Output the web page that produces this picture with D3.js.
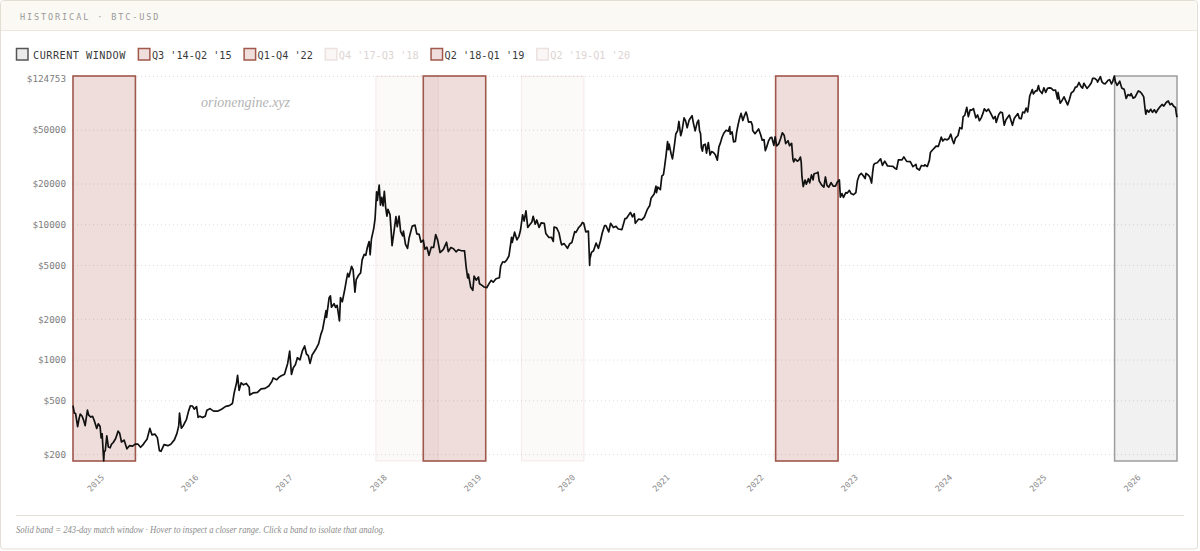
<!DOCTYPE html>
<html>
<head>
<meta charset="utf-8">
<script src="https://cdn.jsdelivr.net/npm/d3@7"></script>
<style>
  body { margin: 0; background: #fff; }
  svg { display: block; }
  .mono { font-family: "DejaVu Sans Mono", "Liberation Mono", monospace; }
  .serif { font-family: "Liberation Serif", "DejaVu Serif", serif; font-style: italic; }
</style>
</head>
<body>
<svg id="chart" width="1200" height="551"></svg>
<script>
const btcCloses = [
  ["2014-09-17",457],["2014-09-22",403],["2014-09-27",399],["2014-10-05",320],["2014-10-10",362],["2014-10-15",395],
  ["2014-10-22",383],["2014-10-28",357],["2014-11-03",325],["2014-11-12",423],["2014-11-17",388],["2014-11-25",376],
  ["2014-12-02",381],["2014-12-09",352],["2014-12-18",310],["2014-12-24",335],["2014-12-31",320],
  ["2015-01-04",264],["2015-01-08",283],["2015-01-14",178],["2015-01-16",210],["2015-01-20",211],["2015-01-26",273],
  ["2015-02-01",226],["2015-02-08",223],["2015-02-13",236],["2015-02-20",244],["2015-03-01",260],["2015-03-11",296],
  ["2015-03-17",285],["2015-03-24",246],["2015-04-03",254],["2015-04-14",219],["2015-04-24",231],["2015-05-06",229],
  ["2015-05-16",237],["2015-05-27",237],["2015-06-06",225],["2015-06-14",233],["2015-06-22",245],["2015-07-01",258],
  ["2015-07-12",310],["2015-07-20",278],["2015-08-01",281],["2015-08-10",265],["2015-08-18",212],["2015-08-24",210],
  ["2015-09-05",235],["2015-09-20",231],["2015-10-01",237],["2015-10-15",255],["2015-10-25",285],["2015-11-01",325],
  ["2015-11-04",403],["2015-11-11",311],["2015-11-19",326],["2015-12-01",362],["2015-12-09",416],["2015-12-16",455],
  ["2015-12-24",454],["2015-12-31",430],
  ["2016-01-09",449],["2016-01-15",374],["2016-01-22",382],["2016-02-01",373],["2016-02-12",382],["2016-02-18",422],
  ["2016-03-01",434],["2016-03-15",416],["2016-04-01",416],["2016-04-15",430],["2016-05-01",451],["2016-05-15",457],
  ["2016-05-27",473],["2016-06-03",569],["2016-06-12",673],["2016-06-16",766],["2016-06-22",592],["2016-06-30",674],
  ["2016-07-09",651],["2016-07-20",666],["2016-07-31",624],["2016-08-02",547],["2016-08-15",567],["2016-09-01",572],
  ["2016-09-15",607],["2016-10-01",613],["2016-10-15",638],["2016-10-27",688],["2016-11-01",731],["2016-11-15",710],
  ["2016-11-23",739],["2016-12-01",756],["2016-12-15",779],["2016-12-22",865],["2016-12-27",933],
  ["2017-01-04",1154],["2017-01-11",777],["2017-01-18",871],["2017-01-26",916],["2017-02-03",1032],["2017-02-13",996],
  ["2017-02-23",1171],["2017-03-03",1260],["2017-03-10",1100],["2017-03-17",1071],["2017-03-24",937],["2017-04-01",1080],
  ["2017-04-14",1181],["2017-04-26",1307],["2017-05-05",1536],["2017-05-12",1677],["2017-05-20",2044],["2017-05-25",2304],
  ["2017-05-27",2052],["2017-06-06",2870],["2017-06-11",2958],["2017-06-15",2442],["2017-06-25",2590],["2017-07-01",2435],
  ["2017-07-07",2515],["2017-07-16",1929],["2017-07-20",2870],["2017-07-27",2676],["2017-08-05",3253],["2017-08-12",3885],
  ["2017-08-17",4332],["2017-08-22",4086],["2017-09-01",4892],["2017-09-07",4599],["2017-09-14",3155],["2017-09-19",3905],
  ["2017-09-28",4200],["2017-10-06",4370],["2017-10-12",5454],["2017-10-20",5993],["2017-10-26",5904],["2017-11-01",6738],
  ["2017-11-08",7459],["2017-11-12",5950],["2017-11-17",7790],["2017-11-26",9330],["2017-12-01",10975],["2017-12-07",17390],
  ["2017-12-10",15030],["2017-12-17",19497],["2017-12-22",13831],["2017-12-27",15838],
  ["2018-01-01",13657],["2018-01-06",17527],["2018-01-11",13405],["2018-01-16",11490],["2018-01-20",12900],["2018-01-28",11786],
  ["2018-02-01",9170],["2018-02-05",6955],["2018-02-10",8129],["2018-02-20",11403],["2018-02-25",9590],["2018-03-04",11489],
  ["2018-03-10",8866],["2018-03-18",8223],["2018-03-21",8919],["2018-03-29",7102],["2018-04-06",6636],["2018-04-12",7927],
  ["2018-04-24",9698],["2018-05-05",9858],["2018-05-12",8504],["2018-05-21",8418],["2018-05-28",7368],["2018-06-06",7650],
  ["2018-06-12",6550],["2018-06-20",6770],["2018-06-28",5903],["2018-07-07",6780],["2018-07-16",6740],["2018-07-24",8398],
  ["2018-08-01",7605],["2018-08-10",6184],["2018-08-14",6274],["2018-08-23",6530],["2018-09-04",7366],["2018-09-11",6280],
  ["2018-09-21",6735],["2018-10-01",6589],["2018-10-11",6260],["2018-10-20",6490],["2018-11-01",6377],["2018-11-13",6351],
  ["2018-11-19",4871],["2018-11-25",4009],["2018-11-28",4279],["2018-12-07",3419],["2018-12-15",3252],["2018-12-20",4134],
  ["2018-12-28",3865],
  ["2019-01-06",4076],["2019-01-10",3631],["2019-01-20",3536],["2019-01-28",3437],["2019-02-07",3397],["2019-02-17",3674],
  ["2019-02-24",3848],["2019-03-04",3731],["2019-03-15",3960],["2019-03-28",4029],["2019-04-02",4906],["2019-04-10",5285],
  ["2019-04-17",5236],["2019-04-25",5429],["2019-05-04",5832],["2019-05-11",7209],["2019-05-14",7994],["2019-05-17",7361],
  ["2019-05-26",8742],["2019-06-04",7674],["2019-06-12",8150],["2019-06-18",9075],["2019-06-26",11760],["2019-07-02",10576],
  ["2019-07-09",12567],["2019-07-16",9478],["2019-07-23",9880],["2019-08-01",10407],["2019-08-06",11460],["2019-08-14",10017],
  ["2019-08-20",10760],["2019-08-29",9489],["2019-09-06",10256],["2019-09-18",10160],["2019-09-24",8550],["2019-10-06",7988],
  ["2019-10-16",8000],["2019-10-23",7466],["2019-10-26",9551],["2019-11-05",9413],["2019-11-14",8658],["2019-11-22",7288],
  ["2019-11-25",7047],["2019-12-04",7196],["2019-12-17",6640],["2019-12-26",7190],
  ["2020-01-03",7344],["2020-01-14",8826],["2020-01-19",8707],["2020-01-28",9380],["2020-02-08",9911],["2020-02-13",10326],
  ["2020-02-18",10188],["2020-02-26",8785],["2020-03-07",8909],["2020-03-12",4971],["2020-03-13",5563],["2020-03-19",6191],
  ["2020-03-27",6373],["2020-04-06",7273],["2020-04-15",6642],["2020-04-23",7551],["2020-04-30",8658],["2020-05-09",9800],
  ["2020-05-14",9795],["2020-05-25",8790],["2020-06-01",10167],["2020-06-12",9465],["2020-06-22",9686],["2020-07-01",9228],
  ["2020-07-15",9132],["2020-07-27",11029],["2020-08-02",11071],["2020-08-17",12254],["2020-08-25",11366],["2020-09-01",11970],
  ["2020-09-05",10169],["2020-09-18",10939],["2020-09-30",10784],["2020-10-10",11296],["2020-10-21",12823],["2020-10-31",13780],
  ["2020-11-05",15566],["2020-11-17",16716],["2020-11-24",19166],["2020-11-26",17150],["2020-12-01",18803],["2020-12-11",18038],
  ["2020-12-17",22806],["2020-12-23",23241],["2020-12-27",26273],
  ["2021-01-02",32127],["2021-01-08",40797],["2021-01-11",35566],["2021-01-14",39187],["2021-01-22",33005],["2021-01-27",30432],
  ["2021-02-03",37618],["2021-02-09",46481],["2021-02-16",49200],["2021-02-21",57539],["2021-02-28",45137],["2021-03-05",48880],
  ["2021-03-13",61243],["2021-03-19",58093],["2021-03-25",51704],["2021-04-02",59095],["2021-04-13",63503],["2021-04-18",56216],
  ["2021-04-25",49004],["2021-05-03",56620],["2021-05-08",58803],["2021-05-12",49150],["2021-05-16",46760],["2021-05-19",37002],
  ["2021-05-23",34770],["2021-05-27",38529],["2021-06-03",39098],["2021-06-08",33560],["2021-06-15",40218],["2021-06-22",32506],
  ["2021-06-28",34500],["2021-07-06",33798],["2021-07-12",32700],["2021-07-20",29807],["2021-07-26",37337],["2021-08-01",39974],
  ["2021-08-07",43798],["2021-08-14",47096],["2021-08-23",49546],["2021-09-01",48848],["2021-09-06",52697],["2021-09-08",46368],
  ["2021-09-15",48176],["2021-09-21",40693],["2021-09-28",41034],["2021-10-03",48200],["2021-10-08",53967],["2021-10-15",61672],
  ["2021-10-20",65992],["2021-10-27",58482],["2021-11-02",63326],["2021-11-08",67566],["2021-11-12",64156],["2021-11-18",56942],
  ["2021-11-24",57138],["2021-11-28",57274],["2021-12-03",53601],["2021-12-04",49368],["2021-12-13",46737],["2021-12-21",48936],
  ["2021-12-27",50640],
  ["2022-01-04",45898],["2022-01-10",41821],["2022-01-17",42250],["2022-01-22",35030],["2022-01-27",37139],["2022-02-04",41574],
  ["2022-02-10",43565],["2022-02-16",43961],["2022-02-24",38332],["2022-03-01",44354],["2022-03-07",38021],["2022-03-15",39338],
  ["2022-03-22",42893],["2022-03-29",47465],["2022-04-05",45538],["2022-04-11",39521],["2022-04-20",41502],["2022-04-26",38118],
  ["2022-05-04",39695],["2022-05-09",30296],["2022-05-12",28936],["2022-05-17",30425],["2022-05-26",29267],["2022-06-01",29799],
  ["2022-06-07",31371],["2022-06-10",29083],["2022-06-13",22487],["2022-06-18",19017],["2022-06-25",21232],["2022-06-30",19785],
  ["2022-07-08",21734],["2022-07-13",20260],["2022-07-20",23164],["2022-07-26",21310],["2022-07-30",23634],["2022-08-10",23949],
  ["2022-08-14",24320],["2022-08-19",20872],["2022-08-28",19555],["2022-09-06",18837],["2022-09-12",22371],["2022-09-18",19420],
  ["2022-09-25",18803],["2022-10-04",20337],["2022-10-12",19158],["2022-10-21",19167],["2022-10-29",20635],["2022-11-05",21300],
  ["2022-11-09",15880],["2022-11-15",16884],["2022-11-21",15787],["2022-11-30",17168],["2022-12-05",16966],["2022-12-14",17800],
  ["2022-12-20",16906],["2022-12-30",16547],
  ["2023-01-08",17127],["2023-01-14",20977],["2023-01-21",23000],["2023-01-29",23775],["2023-02-05",22935],["2023-02-13",21788],
  ["2023-02-16",23753],["2023-02-25",23166],["2023-03-03",22362],["2023-03-10",20187],["2023-03-14",24197],["2023-03-18",27454],
  ["2023-03-22",28152],["2023-04-01",28478],["2023-04-14",30485],["2023-04-21",27265],["2023-04-30",29268],["2023-05-11",26987],
  ["2023-05-22",26852],["2023-06-01",26819],["2023-06-10",25841],["2023-06-15",25575],["2023-06-22",29993],["2023-07-06",29910],
  ["2023-07-13",31476],["2023-07-24",29176],["2023-08-07",29088],["2023-08-17",26664],["2023-08-29",27727],["2023-09-01",25940],
  ["2023-09-11",25162],["2023-09-19",27210],["2023-09-30",26968],["2023-10-02",27530],["2023-10-12",26756],["2023-10-20",29669],
  ["2023-10-24",33900],["2023-11-01",35422],["2023-11-09",36702],["2023-11-15",37880],["2023-11-24",37720],["2023-12-05",44080],
  ["2023-12-11",41244],["2023-12-18",42659],["2023-12-28",42099],
  ["2024-01-03",42848],["2024-01-11",46339],["2024-01-18",41619],["2024-01-23",39507],["2024-01-29",43288],["2024-02-08",45301],
  ["2024-02-15",51839],["2024-02-23",50731],["2024-02-28",62504],["2024-03-05",63793],["2024-03-13",73083],["2024-03-19",62440],
  ["2024-03-26",70000],["2024-04-01",69703],["2024-04-08",71631],["2024-04-17",61276],["2024-04-24",64276],["2024-05-01",58254],
  ["2024-05-08",61190],["2024-05-15",66267],["2024-05-20",71448],["2024-05-28",68366],["2024-06-05",71082],["2024-06-14",66012],
  ["2024-06-24",60277],["2024-07-01",62678],["2024-07-05",56662],["2024-07-15",64784],["2024-07-22",67585],["2024-07-29",66819],
  ["2024-08-05",53991],["2024-08-12",59350],["2024-08-25",64157],["2024-09-06",53950],["2024-09-13",60548],["2024-09-19",62941],
  ["2024-09-27",65790],["2024-10-03",60632],["2024-10-10",60274],["2024-10-16",67612],["2024-10-23",66683],["2024-10-29",72339],
  ["2024-11-04",67811],["2024-11-08",76545],["2024-11-12",88700],["2024-11-22",98997],["2024-11-26",91986],["2024-12-05",96945],
  ["2024-12-10",96675],["2024-12-16",106029],["2024-12-20",97756],["2024-12-30",92643],
  ["2025-01-06",102078],["2025-01-13",94488],["2025-01-20",101000],["2025-01-27",102000],["2025-02-03",101400],["2025-02-12",97800],
  ["2025-02-20",98300],["2025-02-28",84373],["2025-03-02",94270],["2025-03-10",78532],["2025-03-18",82700],["2025-03-25",87500],
  ["2025-03-31",82500],["2025-04-08",76271],["2025-04-15",83700],["2025-04-22",93442],["2025-05-01",96500],["2025-05-08",103241],
  ["2025-05-14",103500],["2025-05-22",111673],["2025-05-30",103998],["2025-06-05",101575],["2025-06-10",110200],["2025-06-22",100963],
  ["2025-07-01",105700],["2025-07-09",111300],["2025-07-14",119841],["2025-07-22",119900],["2025-07-31",115758],["2025-08-02",112500],
  ["2025-08-13",123344],["2025-08-19",112900],["2025-08-25",110100],["2025-09-01",109200],["2025-09-12",115900],["2025-09-18",117100],
  ["2025-09-25",109000],["2025-09-30",114000],["2025-10-06",124753],
  ["2025-10-10",113200],["2025-10-17",106400],["2025-10-27",114100],["2025-11-04",101500],["2025-11-13",99700],["2025-11-21",85100],
  ["2025-11-28",90900],["2025-12-06",89300],["2025-12-10",92500],["2025-12-18",85500],["2025-12-26",87300],["2026-01-07",96800],
  ["2026-01-14",95300],["2026-01-20",92600],["2026-01-28",87500],["2026-02-02",72000],["2026-02-05",65200],["2026-02-10",69800],
  ["2026-02-17",67500],["2026-02-24",70800],["2026-03-03",67200],["2026-03-10",70200],["2026-03-17",66800],["2026-03-24",70500],
  ["2026-04-01",73800],["2026-04-09",76800],["2026-04-16",74800],["2026-04-25",79500],["2026-05-03",81600],["2026-05-10",76500],
  ["2026-05-17",78200],["2026-05-24",74500],["2026-05-31",73000],["2026-06-03",66500],["2026-06-06",61800]
];

// analog bands (legend order), each one spans the match window
const bandLabels = ["CURRENT WINDOW", "Q3 '14-Q2 '15", "Q1-Q4 '22", "Q4 '17-Q3 '18", "Q2 '18-Q1 '19", "Q2 '19-Q1 '20"];
const bandStarts = ["2025-10-07", "2014-09-17", "2022-03-03", "2017-12-04", "2018-06-06", "2019-06-22"];
const bandKinds  = ["current", "solid", "solid", "faint", "solid", "faint"];
const windowDays = 243;

const yTickValues = [200, 500, 1000, 2000, 5000, 10000, 20000, 50000, 124753];
const xTickYears  = [2015, 2016, 2017, 2018, 2019, 2020, 2021, 2022, 2023, 2024, 2025, 2026];

const parseDate = d3.utcParse("%Y-%m-%d");
const series = btcCloses.map(d => ({ date: parseDate(d[0]), close: d[1] }));

const W = 1200, H = 551;
const plot = { left: 73, right: 1177, top: 76, bottom: 461 };

const svg = d3.select("#chart");

// card + header
svg.append("rect")
    .attr("x", 0.5).attr("y", 0.5).attr("width", W - 3).attr("height", H - 2.5)
    .attr("rx", 3).attr("fill", "#fff").attr("stroke", "#e3ded4");
svg.append("path")
    .attr("d", "M1,30 V4 Q1,1 4,1 H1193.5 Q1196.5,1 1196.5,4 V30 Z")
    .attr("fill", "#fbf9f4");
svg.append("line")
    .attr("x1", 1).attr("x2", W - 3).attr("y1", 30.5).attr("y2", 30.5)
    .attr("stroke", "#ece8df");
svg.append("text")
    .attr("class", "mono")
    .attr("x", 20).attr("y", 19.5)
    .attr("font-size", 8.5).attr("letter-spacing", 1.9)
    .attr("fill", "#9a9a9a")
    .text("HISTORICAL · BTC-USD");

// scales
const x = d3.scaleUtc()
    .domain(d3.extent(series, d => d.date))
    .range([plot.left, plot.right]);
const y = d3.scaleLog()
    .domain(d3.extent(series, d => d.close))
    .range([plot.bottom, plot.top]);

const bandStyle = {
    current: { fill: "rgba(0,0,0,0.055)", stroke: "#9d9d9d", width: 1.5, sqFill: "#ebebeb", sqStroke: "#555", text: "#3a3a3a" },
    solid:   { fill: "rgba(165,75,65,0.19)", stroke: "#a0584c", width: 1.6, sqFill: "#efdedc", sqStroke: "#a0584c", text: "#3a3a3a" },
    faint:   { fill: "rgba(165,75,65,0.03)", stroke: "rgba(165,75,65,0.10)", width: 1, sqFill: "#fbf7f6", sqStroke: "#ece2e0", text: "#ddd4d2" }
};

const bands = bandLabels.map((label, i) => {
    const start = parseDate(bandStarts[i]);
    return { label, kind: bandKinds[i], start, end: d3.utcDay.offset(start, windowDays - 1) };
});

// gridlines
svg.append("g")
    .selectAll("line")
    .data(yTickValues)
    .join("line")
    .attr("x1", plot.left).attr("x2", plot.right)
    .attr("y1", d => y(d) + 0.5).attr("y2", d => y(d) + 0.5)
    .attr("stroke", "#dcdcdc")
    .attr("stroke-dasharray", "1,3");

// bands
svg.append("g")
    .selectAll("rect")
    .data(bands)
    .join("rect")
    .attr("x", d => x(d.start))
    .attr("y", plot.top)
    .attr("width", d => x(d.end) - x(d.start))
    .attr("height", plot.bottom - plot.top)
    .attr("fill", d => bandStyle[d.kind].fill)
    .attr("stroke", d => bandStyle[d.kind].stroke)
    .attr("stroke-width", d => bandStyle[d.kind].width);

// price line
const line = d3.line()
    .x(d => x(d.date))
    .y(d => y(d.close));
svg.append("path")
    .datum(series)
    .attr("d", line)
    .attr("fill", "none")
    .attr("stroke", "#111")
    .attr("stroke-width", 1.7)
    .attr("stroke-linejoin", "round");

// y labels
svg.append("g")
    .selectAll("text")
    .data(yTickValues)
    .join("text")
    .attr("class", "mono")
    .attr("x", 66)
    .attr("y", (d, i) => y(d) + (i === yTickValues.length - 1 ? 3 : 0.5))
    .attr("dy", "0.35em")
    .attr("text-anchor", "end")
    .attr("font-size", 9.3)
    .attr("fill", "#7d7d7d")
    .text(d => "$" + d);

// x labels
svg.append("g")
    .selectAll("text")
    .data(xTickYears)
    .join("text")
    .attr("class", "mono")
    .attr("transform", d => `translate(${x(Date.UTC(d, 0, 1)) + 4.5},478) rotate(-45)`)
    .attr("text-anchor", "end")
    .attr("font-size", 8.3)
    .attr("fill", "#8a8a8a")
    .text(d => d);

// legend
const legend = svg.append("g");
let cx = 16;
bands.forEach((b, i) => {
    const st = bandStyle[b.kind];
    legend.append("rect")
        .attr("x", cx + 0.5).attr("y", 48.5).attr("width", 11.5).attr("height", 11.5)
        .attr("fill", st.sqFill).attr("stroke", st.sqStroke).attr("stroke-width", 1.5);
    const pad = i === 0 ? 17 : 14;
    const t = legend.append("text")
        .attr("class", "mono")
        .attr("x", cx + pad).attr("y", 58.5)
        .attr("font-size", 10.2)
        .attr("letter-spacing", i === 0 ? 0.5 : 0)
        .attr("fill", st.text)
        .text(b.label);
    cx += pad + t.node().getComputedTextLength() + 12;
});

// watermark
svg.append("text")
    .attr("class", "serif")
    .attr("x", 201).attr("y", 107)
    .attr("font-size", 14)
    .attr("fill", "#b3b3b3")
    .text("orionengine.xyz");

// footer
svg.append("line")
    .attr("x1", 16).attr("x2", 1184).attr("y1", 515.5).attr("y2", 515.5)
    .attr("stroke", "#e4e0d8");
svg.append("text")
    .attr("class", "serif")
    .attr("x", 16).attr("y", 533)
    .attr("font-size", 9.6)
    .attr("textLength", 369)
    .attr("lengthAdjust", "spacingAndGlyphs")
    .attr("fill", "#8c8c8c")
    .text("Solid band = 243-day match window · Hover to inspect a closer range. Click a band to isolate that analog.");
</script>
</body>
</html>
